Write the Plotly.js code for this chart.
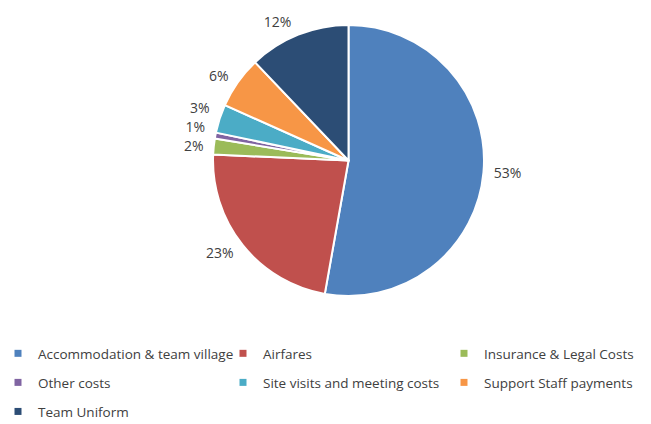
<!DOCTYPE html>
<html>
<head>
<meta charset="utf-8">
<script src="https://cdn.plot.ly/plotly-3.0.1.min.js"></script>
<style>
html,body{margin:0;padding:0;background:#fff;}
#chart{width:651px;height:424px;}
#chart path.textline{stroke-opacity:0 !important;}
</style>
</head>
<body>
<div id="chart"></div>
<script>
const categories = ["Accommodation & team village", "Airfares", "Insurance & Legal Costs", "Other costs", "Site visits and meeting costs", "Support Staff payments", "Team Uniform"];
const values = [52.8, 22.9, 1.9, 0.7, 3.4, 6.2, 12.1];
const colors = ["#4F81BD", "#C0504D", "#9BBB59", "#8064A2", "#4BACC6", "#F79646", "#2C4D75"];
// legend column of each category (legend box ids)
const legendColumns = ["legend", "legend2", "legend3", "legend", "legend2", "legend3", "legend"];

const FONT = "Open Sans, sans-serif";
const TEXT = "#404040";

// visible pie
const pie = {
  type: "pie",
  labels: categories,
  values: values,
  sort: false,
  direction: "clockwise",
  rotation: 0,
  marker: {colors: colors, line: {color: "#ffffff", width: 2}},
  textinfo: "none",
  hoverinfo: "label+percent",
  showlegend: false,
  domain: {x: [0.3272, 0.7435], y: [0.3019, 0.9410]},
  automargin: false
};

// slightly larger transparent pie carrying the outside percentage labels
const labelPie = {
  type: "pie",
  labels: categories,
  values: values,
  sort: false,
  direction: "clockwise",
  rotation: 0,
  marker: {colors: categories.map(() => "rgba(0,0,0,0)"), line: {width: 0}},
  texttemplate: "%{percent:.0%}",
  textposition: "outside",
  textfont: {family: FONT, size: 14, color: TEXT},
  hoverinfo: "skip",
  showlegend: false,
  domain: {x: [0.3187, 0.7519], y: [0.2889, 0.9540]},
  automargin: false
};

// legend entries (one per category), arranged in three columns
const legendTraces = categories.map((name, i) => ({
  type: "scatter",
  mode: "markers",
  x: [null], y: [null],
  name: name,
  legend: legendColumns[i],
  legendgroup: "g" + i,
  marker: {symbol: "square", size: 7, color: colors[i]},
  hoverinfo: "skip"
}));

const legendBase = {
  orientation: "v",
  yanchor: "top",
  y: 0.2027,
  xanchor: "left",
  traceorder: "grouped",
  tracegroupgap: 8.5,
  bgcolor: "rgba(0,0,0,0)",
  font: {family: FONT, size: 13.5, color: TEXT}
};

const layout = {
  width: 651, height: 424,
  margin: {l: 0, r: 0, t: 0, b: 0, autoexpand: false},
  paper_bgcolor: "#ffffff",
  plot_bgcolor: "rgba(0,0,0,0)",
  showlegend: true,
  xaxis: {visible: false, showgrid: false, zeroline: false},
  yaxis: {visible: false, showgrid: false, zeroline: false},
  legend: Object.assign({}, legendBase, {x: -2 / 651}),
  legend2: Object.assign({}, legendBase, {x: 223 / 651}),
  legend3: Object.assign({}, legendBase, {x: 444 / 651})
};

Plotly.newPlot("chart", [pie, labelPie].concat(legendTraces), layout, {displayModeBar: false, staticPlot: true});
</script>
</body>
</html>
